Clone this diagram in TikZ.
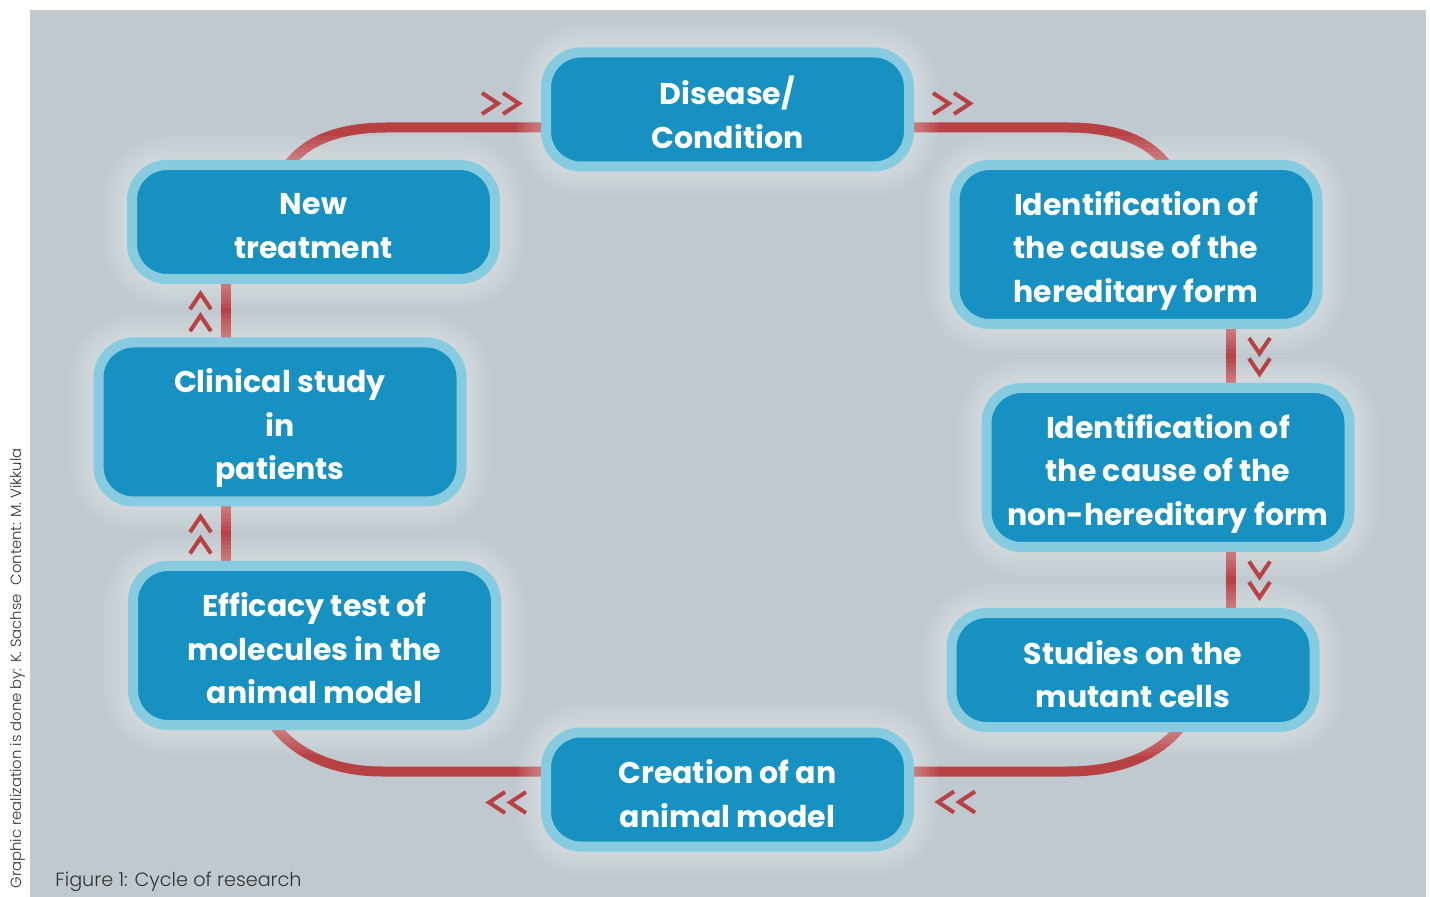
\documentclass[tikz,border=0pt]{standalone}
\usepackage{fontspec}
\setmainfont{Poppins}
\IfFontExistsTF{Poppins Light}{\newfontfamily\capfont{Poppins Light}}{\newfontfamily\capfont{Poppins}}
\usetikzlibrary{calc}
\definecolor{bgc}{HTML}{BFC9CF}
\definecolor{boxc}{HTML}{1791C1}
\definecolor{bordc}{HTML}{86CBE0}
\definecolor{redc}{HTML}{B84144}
\definecolor{capc}{HTML}{333333}
\pgfdeclarelayer{back}
\pgfdeclarelayer{lines}
\pgfdeclarelayer{halo}
\pgfsetlayers{back,lines,halo,main}
\tikzset{
  boxtext/.style={align=center, text=white, inner sep=0pt,
    font=\bfseries\fontsize{15}{21.75}\selectfont},
  box/.style={draw=bordc, fill=boxc, line width=5pt, rounded corners=17.5pt,
    minimum width=181.5pt, minimum height=57pt, inner sep=0pt},
  tallbox/.style={box, minimum height=79.5pt},
  redl/.style={draw=redc, line width=5pt},
  chev/.style={draw=redc, line width=2pt, miter limit=10},
  chevR/.pic={\draw[chev] (-16,-10.5) -- (0,0) -- (-16,10.5);},
  chevL/.pic={\draw[chev] (16,-10.5) -- (0,0) -- (16,10.5);},
  chevD/.pic={\draw[chev] (-10.5,-15.5) -- (0,0) -- (10.5,-15.5);},
  chevU/.pic={\draw[chev] (-10.5,15.5) -- (0,0) -- (10.5,15.5);},
}
\newcommand{\boxhalo}[1]{%
  \foreach \e in {2,4,6,8,10,12}{%
    \pgfmathsetmacro{\rr}{20+\e}%
    \fill[white, fill opacity=0.06, rounded corners=\rr pt]
      ([xshift=-\e pt,yshift=-\e pt]#1.south west) rectangle
      ([xshift=\e pt,yshift=\e pt]#1.north east);}}
\begin{document}
\begin{tikzpicture}[x=0.5pt,y=-0.5pt]
\useasboundingbox (0,0) rectangle (1430,897);
\begin{pgfonlayer}{back}
  \fill[white] (0,0) rectangle (1430,897);
  \fill[bgc] (30,10) rectangle (1426,897);
\end{pgfonlayer}

% boxes
\node[box, label={[boxtext, yshift=-1.5pt]center:{Disease/\\Condition}}] (dis) at (727.5,109.5) {};
\node[box, label={[boxtext, yshift=-2pt]center:{New\\treatment}}] (newt) at (313.5,222) {};
\node[tallbox, label={[boxtext, yshift=-3.2pt]center:{Identification of\\the cause of the\\hereditary form}}] (idh) at (1136,244.5) {};
\node[tallbox, label={[boxtext, yshift=-3.2pt]center:{Identification of\\the cause of the\\non-hereditary form}}] (idn) at (1168,467.5) {};
\node[tallbox, label={[boxtext, yshift=-3.2pt]center:{Clinical study\\in\\patients}}] (cli) at (280,422) {};
\node[tallbox, label={[boxtext, yshift=-1.4pt]center:{Efficacy test of\\molecules in the\\animal model}}] (eff) at (314.5,645.5) {};
\node[box, label={[boxtext, yshift=-2pt]center:{Studies on the\\mutant cells}}] (stu) at (1133,670) {};
\node[box, label={[boxtext, yshift=-2pt]center:{Creation of an\\animal model}}] (cre) at (727.5,789.5) {};

\begin{pgfonlayer}{halo}
  \boxhalo{dis}\boxhalo{newt}\boxhalo{idh}\boxhalo{idn}
  \boxhalo{cli}\boxhalo{eff}\boxhalo{stu}\boxhalo{cre}
\end{pgfonlayer}

\coordinate (rv) at (1230.5,0);
\coordinate (lv) at (225.5,0);
\begin{pgfonlayer}{lines}
  \draw[redl] ($(dis.west)+(10,18)$) -- (387,127.5)
      .. controls (340,127.5) and (305,140) .. ($(newt.north)+(-27.5,8)$);
  \draw[redl] ($(dis.east)+(-10,18)$) -- (1068,127.5)
      .. controls (1115,127.5) and (1150,140) .. ($(idh.north)+(33,8)$);
  \draw[redl, shorten <=-4pt, shorten >=-4pt] (idh.south -| rv) -- (idn.north -| rv);
  \draw[redl, shorten <=-4pt, shorten >=-4pt] (idn.south -| rv) -- (stu.north -| rv);
  \draw[redl] ($(cre.east)+(-10,-18)$) -- (1068,771.5)
      .. controls (1120,771.5) and (1160,755) .. ($(stu.south)+(50,-8)$);
  \draw[redl] ($(cre.west)+(10,-18)$) -- (382,771.5)
      .. controls (335,771.5) and (295,755) .. ($(eff.south)+(-43,-8)$);
  \draw[redl, shorten <=-4pt, shorten >=-4pt] (eff.north -| lv) -- (cli.south -| lv);
  \draw[redl, shorten <=-4pt, shorten >=-4pt] (cli.north -| lv) -- (newt.south -| lv);
\end{pgfonlayer}

% direction marks
\pic at (498,103.5) {chevR}; \pic at (519,103.5) {chevR};
\pic at (949,103.5) {chevR}; \pic at (970,103.5) {chevR};
\pic at (938,802) {chevL}; \pic at (959,802) {chevL};
\pic at (489,802.5) {chevL}; \pic at (510,802.5) {chevL};
\pic at (1259.5,353.5) {chevD}; \pic at (1259.5,374) {chevD};
\pic at (1259.5,577) {chevD}; \pic at (1259.5,597.5) {chevD};
\pic at (200.5,293.7) {chevU}; \pic at (200.5,315.7) {chevU};
\pic at (200.5,516.7) {chevU}; \pic at (200.5,538) {chevU};

% texts
\node[anchor=base west, text=capc, inner sep=0pt, font=\capfont\fontsize{9.6}{12}\selectfont]
  (cap) at (55,886) {Figure 1: Cycle of research};
\node[rotate=90, anchor=base east, text=capc, inner sep=0pt, font=\capfont\fontsize{7.4}{9}\selectfont]
  (credit) at (21,448) {Graphic realization is done by: K. Sachse\hspace{0.6em}Content: M. Vikkula};
\end{tikzpicture}
\end{document}
